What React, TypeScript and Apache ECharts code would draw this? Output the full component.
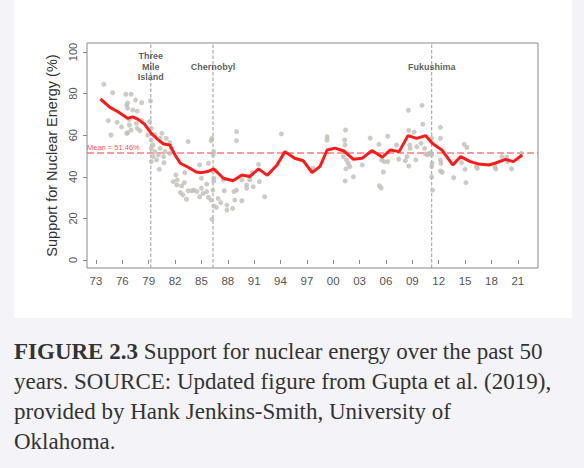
import React, { useEffect, useRef } from "react";
import * as echarts from "echarts";

// ---- Data ----
const xTickYears = [1973, 1976, 1979, 1982, 1985, 1988, 1991, 1994, 1997, 2000, 2003, 2006, 2009, 2012, 2015, 2018, 2021];
const yTickValues = [0, 20, 40, 60, 80, 100];
const xRange = [1971.98, 2023.3];
const yRange = [-3.85, 104.33];

const meanSupport = 51.46;

const eventNames = ["Three\nMile\nIsland", "Chernobyl", "Fukushima"];
const eventYears = [1979.24, 1986.32, 2011.2];

const trendYears = [
  1973.5, 1974.6, 1975.5, 1976.6, 1977.2, 1977.8, 1978.5, 1979.3, 1980.1, 1980.7, 1981.4, 1982.0, 1982.6,
  1983.5, 1984.4, 1985.0, 1985.7, 1986.4, 1987.5, 1988.6, 1989.6, 1990.5, 1991.5, 1992.5, 1993.6, 1994.5,
  1995.6, 1996.6, 1997.6, 1998.5, 1999.3, 2000.2, 2001.2, 2002.3, 2003.3, 2004.4, 2005.6, 2006.5, 2007.5,
  2008.5, 2009.5, 2010.5, 2011.3, 2012.35, 2013.6, 2014.5, 2015.6, 2016.5, 2017.7, 2018.4, 2019.6, 2020.5, 2021.5,
];
const trendValues = [
  77.4, 73.4, 71.3, 68.1, 68.8, 67.6, 65.4, 60.9, 57.7, 55.8, 55.3, 50.5, 46.5,
  44.6, 42.3, 42.0, 42.5, 43.8, 39.3, 38.1, 40.9, 40.1, 43.8, 40.7, 45.7, 52.1,
  48.9, 47.7, 42.0, 45.0, 52.9, 53.8, 52.4, 48.4, 48.9, 52.6, 49.4, 52.9, 52.1,
  59.8, 58.5, 59.8, 56.0, 52.9, 45.7, 49.7, 47.3, 46.2, 45.7, 46.5, 48.4, 47.3, 50.5,
];

const points1970s = [
  [1973.9, 84.5], [1974.4, 67.0], [1974.7, 60.1], [1974.9, 80.4], [1975.4, 66.2], [1975.9, 64.0],
  [1976.4, 79.7], [1976.5, 74.5], [1976.6, 75.5], [1976.6, 73.0], [1976.6, 61.2], [1976.5, 60.9],
  [1976.8, 64.9], [1976.8, 67.6], [1977.0, 79.7], [1977.0, 62.5], [1977.2, 72.1], [1977.5, 76.9],
  [1977.6, 65.7], [1977.7, 63.3], [1977.7, 71.6], [1978.0, 62.2], [1978.2, 75.6], [1978.2, 67.0],
  [1978.9, 60.1], [1979.1, 66.5], [1979.2, 76.5], [1979.3, 63.3], [1979.3, 57.7], [1979.3, 53.7],
  [1979.3, 47.3], [1979.5, 55.3], [1979.5, 49.7], [1979.7, 60.1], [1979.7, 52.1], [1979.9, 48.1],
];
const points1980s = [
  [1980.1, 50.5], [1980.2, 43.6], [1980.3, 58.5], [1980.3, 53.7], [1980.5, 60.9], [1980.7, 49.7],
  [1980.75, 46.8], [1980.85, 52.1], [1981.0, 58.5], [1981.4, 51.3], [1981.6, 53.7], [1981.4, 56.5],
  [1981.8, 37.7], [1982.1, 40.9], [1982.25, 38.5], [1982.2, 36.1], [1982.75, 35.6], [1982.6, 32.4],
  [1982.9, 31.3], [1983.05, 37.2], [1983.1, 42.0], [1983.3, 29.2], [1983.5, 33.3], [1983.5, 56.9],
  [1983.9, 33.3], [1984.15, 33.6], [1984.5, 32.9], [1984.8, 30.4], [1984.8, 45.7], [1985.0, 34.5],
  [1985.0, 39.3], [1985.2, 32.0], [1985.6, 32.9], [1985.6, 36.5], [1985.8, 30.1], [1985.8, 46.5],
  [1986.1, 57.4], [1986.2, 58.5], [1986.4, 52.1], [1986.35, 50.5], [1986.35, 42.5], [1986.4, 39.3],
  [1986.4, 37.9], [1986.3, 33.6], [1986.1, 28.8], [1986.4, 26.0], [1986.2, 19.6], [1986.9, 29.6],
  [1986.7, 25.3], [1987.2, 27.6], [1987.5, 38.5], [1987.6, 33.3], [1987.9, 26.4], [1987.9, 24.0],
  [1988.55, 24.8], [1988.8, 28.8], [1988.7, 32.9], [1989.0, 33.6], [1989.0, 61.7], [1989.0, 57.4],
  [1989.6, 28.5], [1989.6, 38.5],
];
const points1990s = [
  [1990.15, 36.1], [1990.45, 40.0], [1990.5, 38.5], [1990.15, 34.5], [1990.9, 35.2], [1990.8, 42.0],
  [1991.5, 46.0], [1991.6, 37.7], [1992.2, 30.4], [1994.1, 60.6], [1997.7, 44.1], [1997.6, 43.0],
  [1999.3, 59.3], [1999.3, 57.7],
];
const points2000s = [
  [2001.4, 62.5], [2001.3, 57.7], [2001.35, 55.3], [2001.2, 52.1], [2001.15, 49.7], [2001.5, 48.1],
  [2001.7, 46.5], [2001.9, 44.9], [2001.45, 43.8], [2001.35, 38.0], [2002.3, 40.0], [2003.3, 45.7],
  [2004.2, 58.6], [2005.2, 55.6], [2005.5, 48.1], [2005.7, 42.3], [2005.8, 47.3], [2005.25, 35.7],
  [2005.45, 34.6], [2006.2, 59.5], [2006.2, 47.3], [2007.2, 55.3], [2007.45, 48.5], [2008.2, 47.7],
  [2008.55, 72.0], [2008.6, 62.3], [2008.7, 55.3], [2008.75, 53.7], [2008.4, 49.7], [2008.6, 45.2],
  [2009.2, 61.5], [2009.5, 54.5], [2009.4, 48.1], [2010.1, 74.3], [2010.2, 65.3], [2010.0, 56.1],
  [2010.4, 53.7], [2010.5, 51.0], [2010.7, 50.5], [2010.9, 51.2], [2011.1, 51.5],
];
const points2010s = [
  [2011.2, 58.5], [2011.2, 50.5], [2011.25, 46.5], [2011.2, 44.9], [2011.2, 40.0], [2011.3, 33.6],
  [2012.2, 63.8], [2012.2, 58.5], [2012.2, 48.1], [2012.25, 46.5], [2012.2, 42.8], [2012.4, 42.2],
  [2013.7, 39.6], [2014.6, 46.8], [2014.9, 55.6], [2015.2, 54.2], [2015.0, 43.6], [2015.1, 37.2],
  [2016.3, 44.9], [2016.4, 44.1], [2018.4, 44.9], [2018.5, 43.8], [2019.2, 49.7], [2019.75, 49.4],
  [2019.85, 47.3], [2020.3, 43.8], [2021.4, 51.3],
];

const captionLines = [
  "{b|FIGURE 2.3} Support for nuclear energy over the past 50",
  "years. SOURCE: Updated figure from Gupta et al. (2019),",
  "provided by Hank Jenkins-Smith, University of",
  "Oklahoma.",
];

export default function App() {
  const ref = useRef<HTMLDivElement>(null);

  useEffect(() => {
    if (!ref.current) return;
    const chart = echarts.init(ref.current, undefined, { renderer: "svg" });

    const allPoints = [...points1970s, ...points1980s, ...points1990s, ...points2000s, ...points2010s];
    const trend = trendYears.map((y, i) => [y, trendValues[i]]);
    const events = eventYears.map((y, i) => [y, 92.9, eventNames[i]]);

    const sans = '"Liberation Sans", Arial, sans-serif';
    const serif = '"Liberation Serif", "Times New Roman", serif';

    const eventLineSeries = eventYears.map((y) => ({
      type: "line",
      data: [
        [y, yRange[0]],
        [y, yRange[1]],
      ],
      showSymbol: false,
      symbol: "none",
      silent: true,
      z: 1,
      lineStyle: { color: "#a3a3a3", type: [3.5, 2], width: 1.1 },
      itemStyle: { color: "#a3a3a3" },
    }));

    const option: any = {
      animation: false,
      backgroundColor: "#f3f3f8",
      graphic: [
        {
          type: "rect",
          z: -100,
          silent: true,
          shape: { x: 14, y: -5, width: 558, height: 323 },
          style: { fill: "#ffffff" },
        },
        ...captionLines.map((line, i) => ({
          type: "text",
          x: 14,
          y: 351 + i * 30.3,
          silent: true,
          style: {
            text: line,
            fill: "#333333",
            fontSize: 23,
            fontFamily: serif,
            verticalAlign: "middle",
            rich: {
              b: { fontWeight: "bold", fontSize: 23, fontFamily: serif, fill: "#333333", color: "#333333" },
            },
          },
        })),
      ],
      grid: {
        left: 87,
        top: 43,
        width: 451,
        height: 225,
        show: true,
        backgroundColor: "#ffffff",
        borderColor: "#8a8a8a",
        borderWidth: 1,
        outerBoundsMode: "none",
        containLabel: false,
      },
      xAxis: {
        type: "value",
        min: xRange[0],
        max: xRange[1],
        axisLine: { show: false },
        splitLine: { show: false },
        axisTick: {
          show: true,
          length: 4,
          customValues: xTickYears,
          lineStyle: { color: "#8a8a8a", width: 1 },
        },
        axisLabel: {
          customValues: xTickYears,
          margin: 7,
          color: "#555555",
          fontSize: 11.5,
          fontFamily: sans,
          formatter: (v: number) => String(v % 100).padStart(2, "0"),
        },
      },
      yAxis: {
        type: "value",
        min: yRange[0],
        max: yRange[1],
        axisLine: { show: false },
        splitLine: { show: false },
        axisTick: {
          show: true,
          length: 4,
          customValues: yTickValues,
          lineStyle: { color: "#8a8a8a", width: 1 },
        },
        axisLabel: {
          customValues: yTickValues,
          rotate: 90,
          margin: 9,
          color: "#555555",
          fontSize: 11,
          fontFamily: sans,
        },
        name: "Support for Nuclear Energy (%)",
        nameLocation: "middle",
        nameRotate: 90,
        nameGap: 27,
        nameTextStyle: { color: "#333333", fontSize: 14.5, fontFamily: sans },
      },
      series: [
        ...eventLineSeries,
        {
          type: "line",
          data: [
            [xRange[0], meanSupport],
            [xRange[1], meanSupport],
          ],
          showSymbol: false,
          symbol: "none",
          silent: true,
          z: 1,
          lineStyle: { color: "#ff3b3b", type: [7, 3], width: 1.1 },
          itemStyle: { color: "#ff3b3b" },
        },
        {
          type: "scatter",
          data: allPoints,
          symbol: "circle",
          symbolSize: 5,
          itemStyle: { color: "#c2beb8" },
          silent: true,
          z: 2,
        },
        {
          type: "line",
          data: trend,
          showSymbol: false,
          symbol: "none",
          lineStyle: { color: "#ff1a1a", width: 3 },
          itemStyle: { color: "#ff1a1a" },
          silent: true,
          z: 4,
        },
        {
          type: "scatter",
          data: [[xRange[0], meanSupport, "Mean = " + meanSupport.toFixed(2) + "%"]],
          symbolSize: 0,
          silent: true,
          z: 5,
          label: {
            show: true,
            position: "top",
            distance: 1,
            align: "left",
            formatter: (p: any) => p.data[2],
            color: "#ff2020",
            fontSize: 7.5,
            fontFamily: sans,
          },
        },
        {
          type: "scatter",
          data: events,
          symbolSize: 0,
          silent: true,
          z: 5,
          label: {
            show: true,
            position: "inside",
            formatter: (p: any) => p.data[2],
            color: "#333333",
            fontWeight: "bold",
            fontSize: 9,
            lineHeight: 10.7,
            fontFamily: sans,
            align: "center",
            verticalAlign: "middle",
          },
        },
      ],
    };

    chart.setOption(option);
    return () => chart.dispose();
  }, []);

  return (
    <div
      ref={ref}
      style={{ position: "absolute", left: 0, top: 0, width: 584, height: 468 }}
    />
  );
}
